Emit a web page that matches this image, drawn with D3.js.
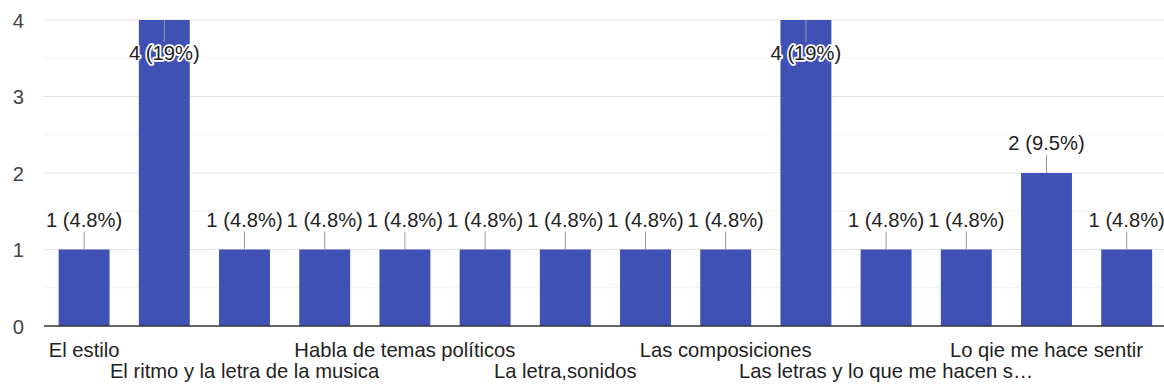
<!DOCTYPE html>
<html>
<head>
<meta charset="utf-8">
<script src="https://cdn.jsdelivr.net/npm/d3@7"></script>
<style>
  html, body { margin: 0; padding: 0; background: #fff; }
  svg { display: block; font-family: Arial, "Liberation Sans", sans-serif; }
</style>
</head>
<body>
<svg id="chart" width="1164" height="388"></svg>
<script>
// Answers (alphabetical order); only every other label fits on the axis
const categories = [
  "El estilo", "", "El ritmo y la letra de la musica", "",
  "Habla de temas políticos", "", "La letra,sonidos", "",
  "Las composiciones", "", "Las letras y lo que me hacen s…", "",
  "Lo qie me hace sentir", ""
];
const counts = [1, 4, 1, 1, 1, 1, 1, 1, 1, 4, 1, 1, 2, 1];
const yTicks = [0, 1, 2, 3, 4];

const total = d3.sum(counts);
const svg = d3.select("#chart");
const W = 1164;
const FS = 20.2;

const plotLeft = 44, plotTop = 20, plotBottom = 326;
const step = 80.2;

const x = d3.scaleBand()
  .domain(d3.range(counts.length))
  .range([plotLeft, plotLeft + step * counts.length])
  .paddingInner(0.365)
  .paddingOuter(0.1825);

const y = d3.scaleLinear().domain([0, 4]).range([plotBottom, plotTop]);

// minor gridlines at half steps
svg.append("g")
  .selectAll("line")
  .data(d3.range(0.5, 4, 1))
  .join("line")
  .attr("x1", plotLeft).attr("x2", W)
  .attr("y1", d => y(d)).attr("y2", d => y(d))
  .attr("stroke", "#f2f2f2").attr("stroke-width", 1);

// major gridlines
svg.append("g")
  .selectAll("line")
  .data(yTicks.filter(d => d > 0))
  .join("line")
  .attr("x1", plotLeft).attr("x2", W)
  .attr("y1", d => y(d)).attr("y2", d => y(d))
  .attr("stroke", "#e3e3e3").attr("stroke-width", 1.2);

// y axis labels
const yAxis = d3.axisLeft(y).tickValues(yTicks).tickSize(0).tickPadding(0).tickFormat(d3.format("d"));
const yg = svg.append("g").attr("transform", `translate(${24},0)`).call(yAxis);
yg.select(".domain").remove();
yg.selectAll("text")
  .attr("font-family", "Arial, 'Liberation Sans', sans-serif")
  .attr("font-size", FS)
  .attr("fill", "#444")
  .attr("dy", "0.35em");

// bars
svg.append("g")
  .selectAll("rect")
  .data(counts)
  .join("rect")
  .attr("x", (d, i) => x(i))
  .attr("width", x.bandwidth())
  .attr("y", d => y(d))
  .attr("height", d => y(0) - y(d))
  .attr("fill", "#3f51b5");

// baseline
svg.append("line")
  .attr("x1", plotLeft).attr("x2", W)
  .attr("y1", y(0)).attr("y2", y(0))
  .attr("stroke", "#333").attr("stroke-width", 1.5);

// value annotations with leader lines
const fmtPct = v => {
  const p = v / total * 100;
  return (p >= 10 ? d3.format(".0f")(p) : d3.format(".1f")(p)) + "%";
};
const ann = svg.append("g");
counts.forEach((v, i) => {
  const cx = x(i) + x.bandwidth() / 2;
  const yt = y(v);
  const inside = yt - 40 < 0;
  const y2 = inside ? yt + 22 : yt - 18;
  const base = inside ? yt + 40 : yt - 23;
  ann.append("line")
    .attr("x1", cx).attr("x2", cx)
    .attr("y1", yt).attr("y2", y2)
    .attr("stroke", "#999").attr("stroke-width", 1);
  const label = `${v} (${fmtPct(v)})`;
  if (inside) {
    ann.append("text")
      .attr("x", cx).attr("y", base)
      .attr("text-anchor", "middle")
      .attr("font-size", FS)
      .attr("fill", "none")
      .attr("stroke", "#fff").attr("stroke-width", 3.5)
      .attr("stroke-linejoin", "round")
      .text(label);
  }
  ann.append("text")
    .attr("x", cx).attr("y", base)
    .attr("text-anchor", "middle")
    .attr("font-size", FS)
    .attr("fill", "#222")
    .text(label);
});

// category labels, staggered in two rows
const xAxis = d3.axisBottom(x).tickSize(0).tickPadding(0).tickFormat(i => categories[i]);
const xg = svg.append("g").call(xAxis);
xg.select(".domain").remove();
xg.selectAll("text")
  .attr("font-family", "Arial, 'Liberation Sans', sans-serif")
  .attr("font-size", FS)
  .attr("fill", "#222")
  .attr("dy", null)
  .attr("y", i => (i % 4 === 0 ? 357 : 378));
</script>
</body>
</html>
